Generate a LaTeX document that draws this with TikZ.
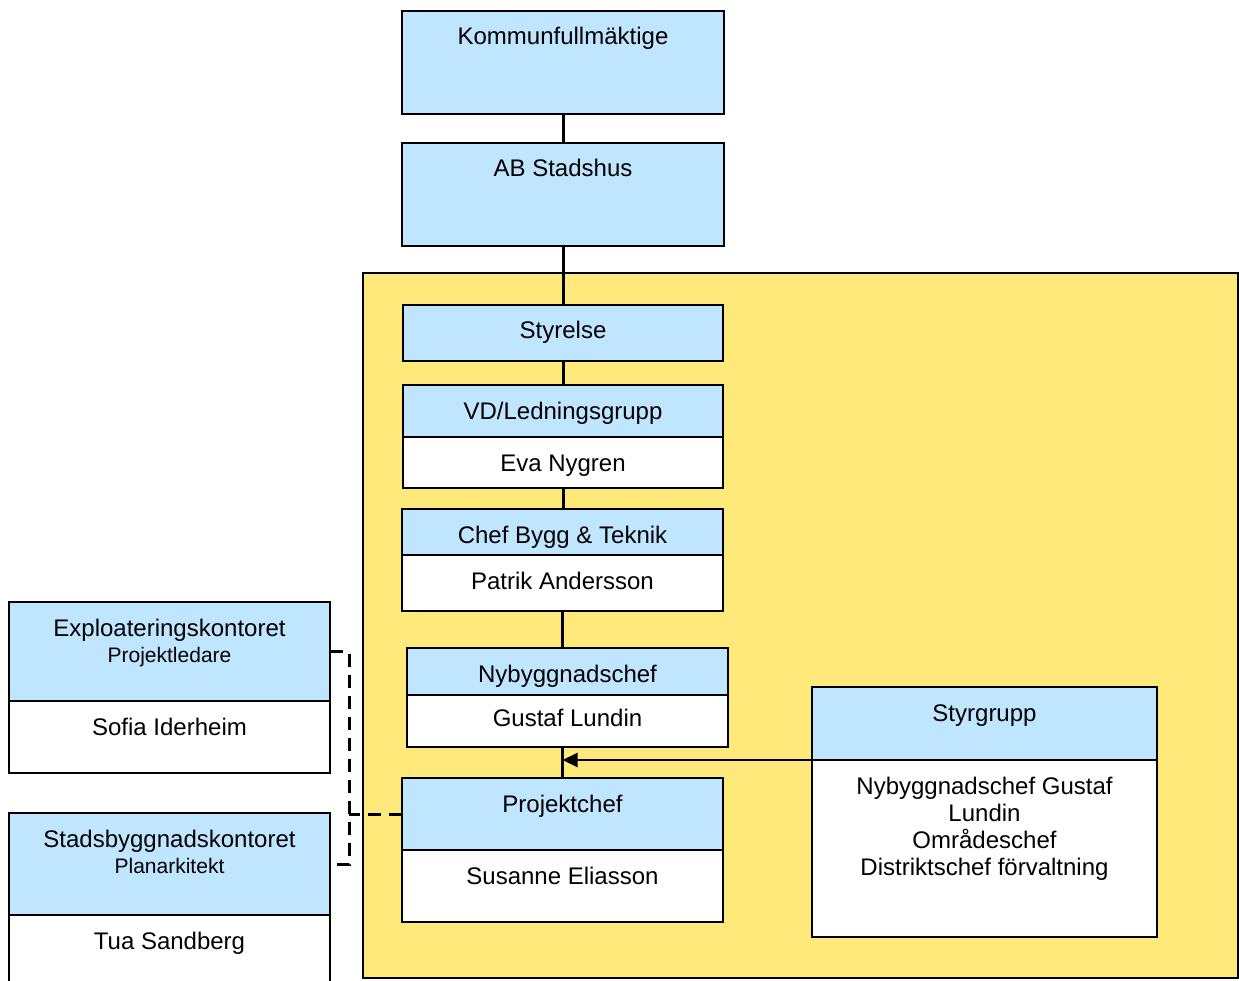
\documentclass[tikz,border=0pt]{standalone}
\usepackage{fontspec}
\setmainfont{Liberation Sans}
\definecolor{orgblue}{RGB}{191,229,255}
\definecolor{orgyellow}{RGB}{255,233,122}
\usetikzlibrary{arrows.meta,positioning}
\newcommand\orgsub[1]{{\fontsize{21}{24}\selectfont #1}}

\begin{document}
\begin{tikzpicture}[x=1pt, y=-1pt,
  hd/.style={draw, line width=2pt, fill=orgblue, anchor=north west, inner sep=0pt, outer sep=0pt,
    align=center, text height=34pt, font=\fontsize{24}{27}\selectfont},
  bd/.style={hd, fill=white},
  conn/.style={line width=3pt},
  dashconn/.style={line width=3pt, dash pattern=on 13pt off 8pt}]
  \clip (0,0) rectangle (1239,981);

  %--- company area ---
  \filldraw[fill=orgyellow, draw=black, line width=2pt] (363,273) rectangle (1238,978);

  %--- owners ---
  \node[hd, minimum width=322, text depth=69pt] (kf) at (402,11) {Kommunfullmäktige};
  \node[hd, minimum width=322, text depth=69pt] (abs) at (402,143) {AB Stadshus};

  %--- company chain ---
  \node[hd, minimum width=320, text depth=22pt] (sty) at (403,305) {Styrelse};
  \node[hd, minimum width=320, text depth=18pt] (vdhd) at (403,385) {VD/Ledningsgrupp};
  \node[bd, minimum width=320, text depth=17pt, below=0pt of vdhd] (vdbd) {Eva Nygren};
  \node[hd, minimum width=321, text depth=12pt] (cbhd) at (402,509) {Chef Bygg \& Teknik};
  \node[bd, minimum width=321, text depth=22pt, below=0pt of cbhd] (cbbd) {Patrik Andersson};
  \node[hd, minimum width=321, text depth=13pt] (nybhd) at (407,648) {Nybyggnadschef};
  \node[bd, minimum width=321, text depth=21pt, text height=31pt, below=0pt of nybhd] (nybbd) {Gustaf Lundin};
  \node[hd, minimum width=321, text depth=38pt] (pchd) at (402,778) {Projektchef};
  \node[bd, minimum width=321, text depth=38pt, below=0pt of pchd] (pcbd) {Susanne Eliasson};

  %--- steering group ---
  \node[hd, minimum width=345, text depth=39pt] (sghd) at (812,687) {Styrgrupp};
  \node[bd, minimum width=345, text height=115pt, text depth=62pt, below=0pt of sghd] (sgbd)
    {Nybyggnadschef Gustaf\\Lundin\\Områdeschef\\Distriktschef förvaltning};

  %--- city offices ---
  \node[hd, minimum width=321, text height=60pt, text depth=39pt] (exhd) at (9,602)
    {Exploateringskontoret\\[-1pt]\orgsub{Projektledare}};
  \node[bd, minimum width=321, text depth=38pt, below=0pt of exhd] (exbd) {Sofia Iderheim};
  \node[hd, minimum width=321, text height=60pt, text depth=42pt] (sbhd) at (9,813)
    {Stadsbyggnadskontoret\\[-1pt]\orgsub{Planarkitekt}};
  \node[bd, minimum width=321, text depth=70pt, below=0pt of sbhd] (sbbd) {Tua Sandberg};

  %--- connectors ---
  \draw[conn] (kf.south) -- (abs.north);
  \draw[conn] (abs.south) -- (sty.north);
  \draw[conn] (sty.south) -- (vdhd.north);
  \draw[conn] (vdbd.south) -- (vdbd.south |- cbhd.north);
  \draw[conn] (cbbd.south) -- (cbbd.south |- nybhd.north);
  \draw[conn] (pchd.north |- nybbd.south) -- (pchd.north);
  \draw[line width=2.2pt, -{Triangle[length=15pt, width=14pt]}] (sghd.south west) -- (sghd.south west -| pchd.north);

  \coordinate (jn) at (349,650);
  \draw[dashconn] (exhd.east) -- (exhd.east -| jn) |- (sbhd.east);
  \draw[dashconn] (pchd.west) -- (pchd.west -| jn);
\end{tikzpicture}
\end{document}
